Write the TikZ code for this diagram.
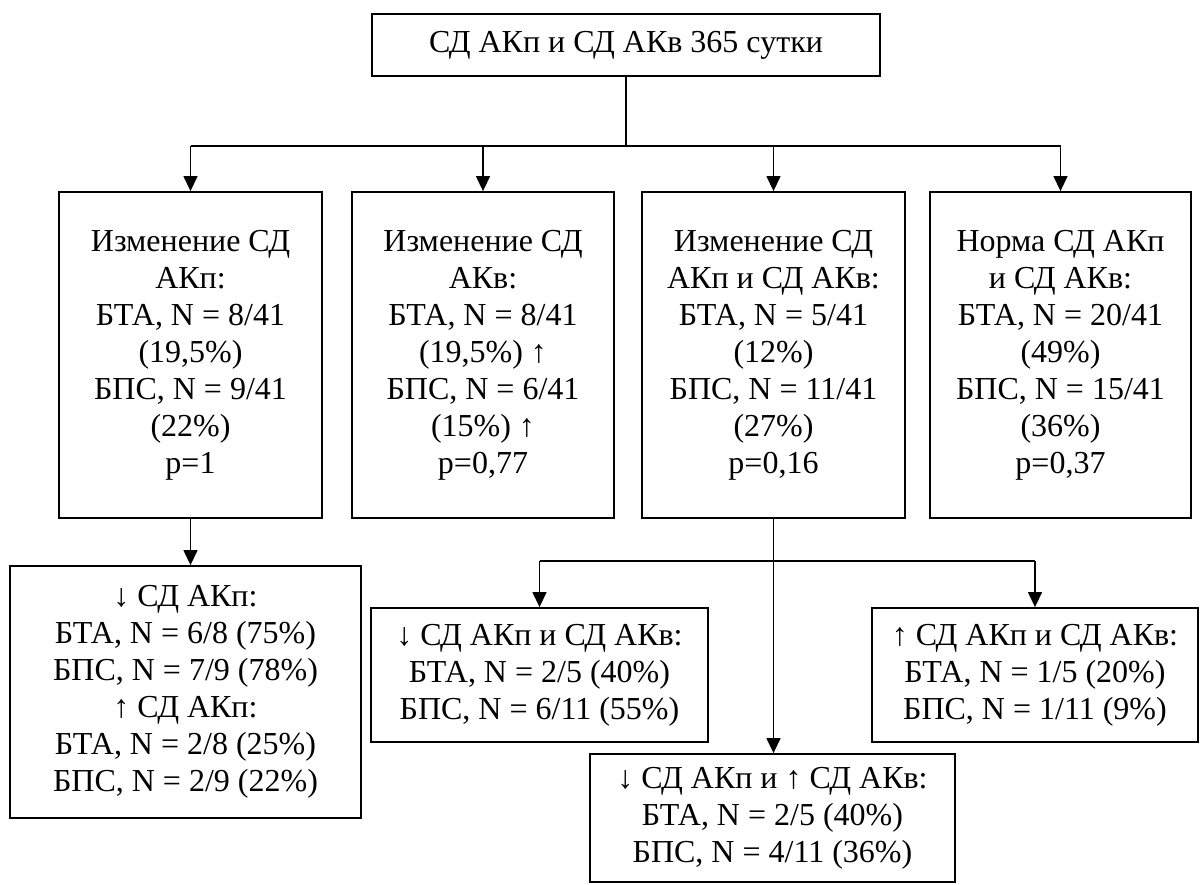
\documentclass[tikz,border=0pt]{standalone}
\usepackage{fontspec}
\setmainfont{Liberation Serif}
\usetikzlibrary{arrows.meta}
\newcommand{\unitlen}{1pt}
\tikzset{
	box/.style={draw, line width=1.8pt, inner sep=0pt, align=center,
		font=\fontsize{32}{37}\selectfont},
	arr/.style={line width=1.3pt, -{Triangle[width=14pt,length=15pt]}}
}

\begin{document}
\begin{tikzpicture}[x=\unitlen,y=-\unitlen]
	\useasboundingbox (0,0) rectangle (1202,885);

	\node[box, minimum width=508pt, minimum height=62pt] (top) at (626,45) {СД АКп и СД АКв 365 сутки};

	\node[box, minimum width=263pt, minimum height=326pt] (b1) at (190.5,355)
		{Изменение СД\\АКп:\\БТА, N = 8/41\\(19,5\%)\\БПС, N = 9/41\\(22\%)\\p=1};
	\node[box, minimum width=262pt, minimum height=326pt] (b2) at (483,355)
		{Изменение СД\\АКв:\\БТА, N = 8/41\\(19,5\%) ↑\\БПС, N = 6/41\\(15\%) ↑\\p=0,77};
	\node[box, minimum width=263pt, minimum height=326pt] (b3) at (773.5,355)
		{Изменение СД\\АКп и СД АКв:\\БТА, N = 5/41\\(12\%)\\БПС, N = 11/41\\(27\%)\\p=0,16};
	\node[box, minimum width=261pt, minimum height=326pt] (b4) at (1060.5,355)
		{Норма СД АКп\\и СД АКв:\\БТА, N = 20/41\\(49\%)\\БПС, N = 15/41\\(36\%)\\p=0,37};

	\node[box, minimum width=351pt, minimum height=252pt] (lowleft) at (185.5,692)
		{↓ СД АКп:\\БТА, N = 6/8 (75\%)\\БПС, N = 7/9 (78\%)\\↑ СД АКп:\\БТА, N = 2/8 (25\%)\\БПС, N = 2/9 (22\%)};
	\node[box, minimum width=337pt, minimum height=134pt] (down) at (539.5,675)
		{↓ СД АКп и СД АКв:\\БТА, N = 2/5 (40\%)\\БПС, N = 6/11 (55\%)};
	\node[box, minimum width=326pt, minimum height=134pt] (up) at (1035,675)
		{↑ СД АКп и СД АКв:\\БТА, N = 1/5 (20\%)\\БПС, N = 1/11 (9\%)};
	\node[box, minimum width=365pt, minimum height=128pt] (mixed) at (772.5,818)
		{↓ СД АКп и ↑ СД АКв:\\БТА, N = 2/5 (40\%)\\БПС, N = 4/11 (36\%)};

	% first level
	\coordinate (fork) at (626,146);
	\draw[line width=1.3pt] (top.south) -- (fork);
	\draw[line width=1.3pt] (b1.north |- fork) -- (b4.north |- fork);
	\foreach \b in {b1,b2,b3,b4}
		\draw[arr] (\b.north |- fork) -- (\b.north);

	% second level
	\draw[arr] (b1.south) -- (b1.south |- lowleft.north);
	\draw[arr] (b3.south) -- (b3.south |- mixed.north);
	\coordinate (branch) at (773.5,561);
	\draw[line width=1.3pt] (down.north |- branch) -- (up.north |- branch);
	\draw[arr] (down.north |- branch) -- (down.north);
	\draw[arr] (up.north |- branch) -- (up.north);
\end{tikzpicture}
\end{document}
